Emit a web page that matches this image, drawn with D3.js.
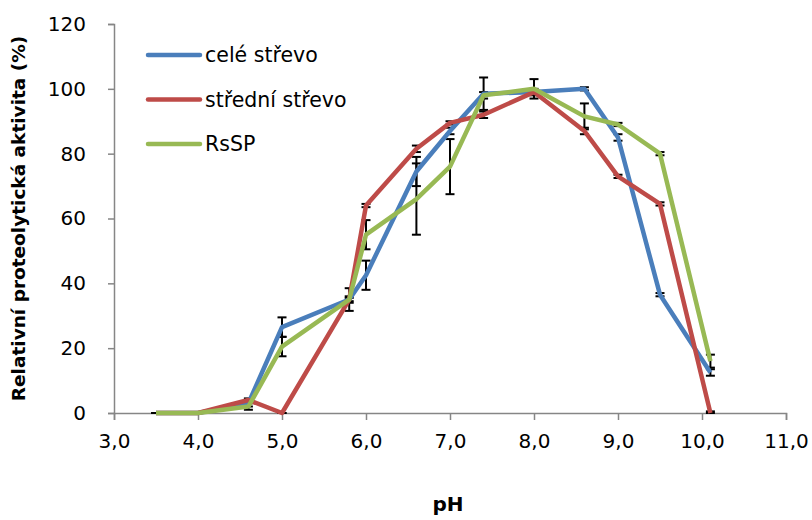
<!DOCTYPE html>
<html>
<head>
<meta charset="utf-8">
<script src="https://cdn.jsdelivr.net/npm/d3@7/dist/d3.min.js"></script>
<style>
  body { margin: 0; background: #fff; }
  svg { display: block; font-family: 'DejaVu Sans', sans-serif; }
</style>
</head>
<body>
<svg id="chart" width="812" height="520"></svg>
<script>
const pH = [3.5, 4.0, 4.6, 5.0, 5.8, 6.0, 6.6, 7.0, 7.4, 8.0, 8.6, 9.0, 9.5, 10.1];
const celeStrevo = [0, 0, 3, 26.5, 35, 42.5, 74.5, 87, 98.5, 99, 100, 85, 36.5, 12.5];
const celeErr = [0, 0, 1, 3, 0.5, 4.5, 4.5, 1, 5, 1, 0.5, 1, 0.5, 1];
const stredniStrevo = [0, 0, 4, 0, 35, 64, 81.5, 89.5, 92, 99, 87, 73, 64.5, 0];
const stredniErr = [0, 0, 0.5, 0, 1, 0.5, 1, 0.5, 1, 0.5, 1, 0.5, 0.5, 0.5];
const rssp = [0, 0, 2, 20.5, 35, 55, 66, 76, 98, 100, 91.5, 89, 80, 16];
const rsspErr = [0, 0, 1, 3, 3.5, 4.5, 11, 8.5, 1, 3, 4, 0.5, 0.5, 2];

const seriesNames = ['celé střevo', 'střední střevo', 'RsSP'];
const xTicks = [3, 4, 5, 6, 7, 8, 9, 10, 11];
const yTicks = [0, 20, 40, 60, 80, 100, 120];

const colors = ['#4a7ebb', '#be4b48', '#98b954'];
const series = [
  { name: seriesNames[0], values: celeStrevo, err: celeErr, color: colors[0] },
  { name: seriesNames[1], values: stredniStrevo, err: stredniErr, color: colors[1] },
  { name: seriesNames[2], values: rssp, err: rsspErr, color: colors[2] },
];

const margin = { left: 114, right: 26, top: 24, bottom: 107 };
const width = 812, height = 520;
const svg = d3.select('#chart');

const x = d3.scaleLinear().domain([3, 11]).range([margin.left, width - margin.right]);
const y = d3.scaleLinear().domain([0, 120]).range([height - margin.bottom, margin.top]);

const axisColor = '#868686';

// axes
const gx = svg.append('g')
  .attr('transform', `translate(0,${y(0)})`)
  .call(d3.axisBottom(x).tickValues(xTicks).tickSize(7).tickPadding(14)
    .tickFormat((d) => d3.format('.1f')(d).replace('.', ',')));
const gy = svg.append('g')
  .attr('transform', `translate(${x(3)},0)`)
  .call(d3.axisLeft(y).tickValues(yTicks).tickSize(6).tickPadding(22));

[gx, gy].forEach((g) => {
  g.select('.domain').attr('stroke', axisColor).attr('stroke-width', 1.5);
  g.selectAll('.tick line').attr('stroke', axisColor).attr('stroke-width', 1.5);
  g.selectAll('.tick text').attr('fill', '#000').style('font-size', '20px')
    .style('font-family', "'DejaVu Sans', sans-serif");
});

// axis titles
svg.append('text')
  .attr('x', (x(3) + x(11)) / 2 - 2)
  .attr('y', 511)
  .attr('text-anchor', 'middle')
  .style('font-size', '20px')
  .style('font-weight', 'bold')
  .text('pH');

svg.append('text')
  .attr('transform', `translate(25,${(y(0) + y(120)) / 2}) rotate(-90)`)
  .attr('text-anchor', 'middle')
  .style('font-size', '18.5px')
  .style('font-weight', 'bold')
  .text('Relativní proteolytická aktivita (%)');

// error bars first
const cap = 4.5;
series.forEach((s) => {
  const g = svg.append('g').attr('stroke', '#000').attr('stroke-width', 2);
  pH.forEach((p, i) => {
    const cx = x(p);
    const top = y(s.values[i] + s.err[i]);
    const bot = y(Math.max(0, s.values[i] - s.err[i]));
    g.append('line').attr('x1', cx).attr('x2', cx).attr('y1', top).attr('y2', bot);
    g.append('line').attr('x1', cx - cap).attr('x2', cx + cap).attr('y1', top).attr('y2', top);
    g.append('line').attr('x1', cx - cap).attr('x2', cx + cap).attr('y1', bot).attr('y2', bot);
  });
});

// lines
const line = d3.line().x((d) => x(d[0])).y((d) => y(d[1]));
series.forEach((s) => {
  svg.append('path')
    .datum(pH.map((p, i) => [p, s.values[i]]))
    .attr('d', line)
    .attr('fill', 'none')
    .attr('stroke', s.color)
    .attr('stroke-width', 4.5)
    .attr('stroke-linejoin', 'round');
});

// legend
const legend = svg.append('g').attr('transform', 'translate(148,55)');
series.forEach((s, i) => {
  const row = legend.append('g').attr('transform', `translate(0,${i * 44.5})`);
  row.append('line')
    .attr('x1', 0).attr('x2', 52)
    .attr('stroke', s.color).attr('stroke-width', 4.5).attr('stroke-linecap', 'round');
  row.append('text')
    .attr('x', 57).attr('y', 7)
    .style('font-size', '20.5px')
    .text(s.name);
});
</script>
</body>
</html>
